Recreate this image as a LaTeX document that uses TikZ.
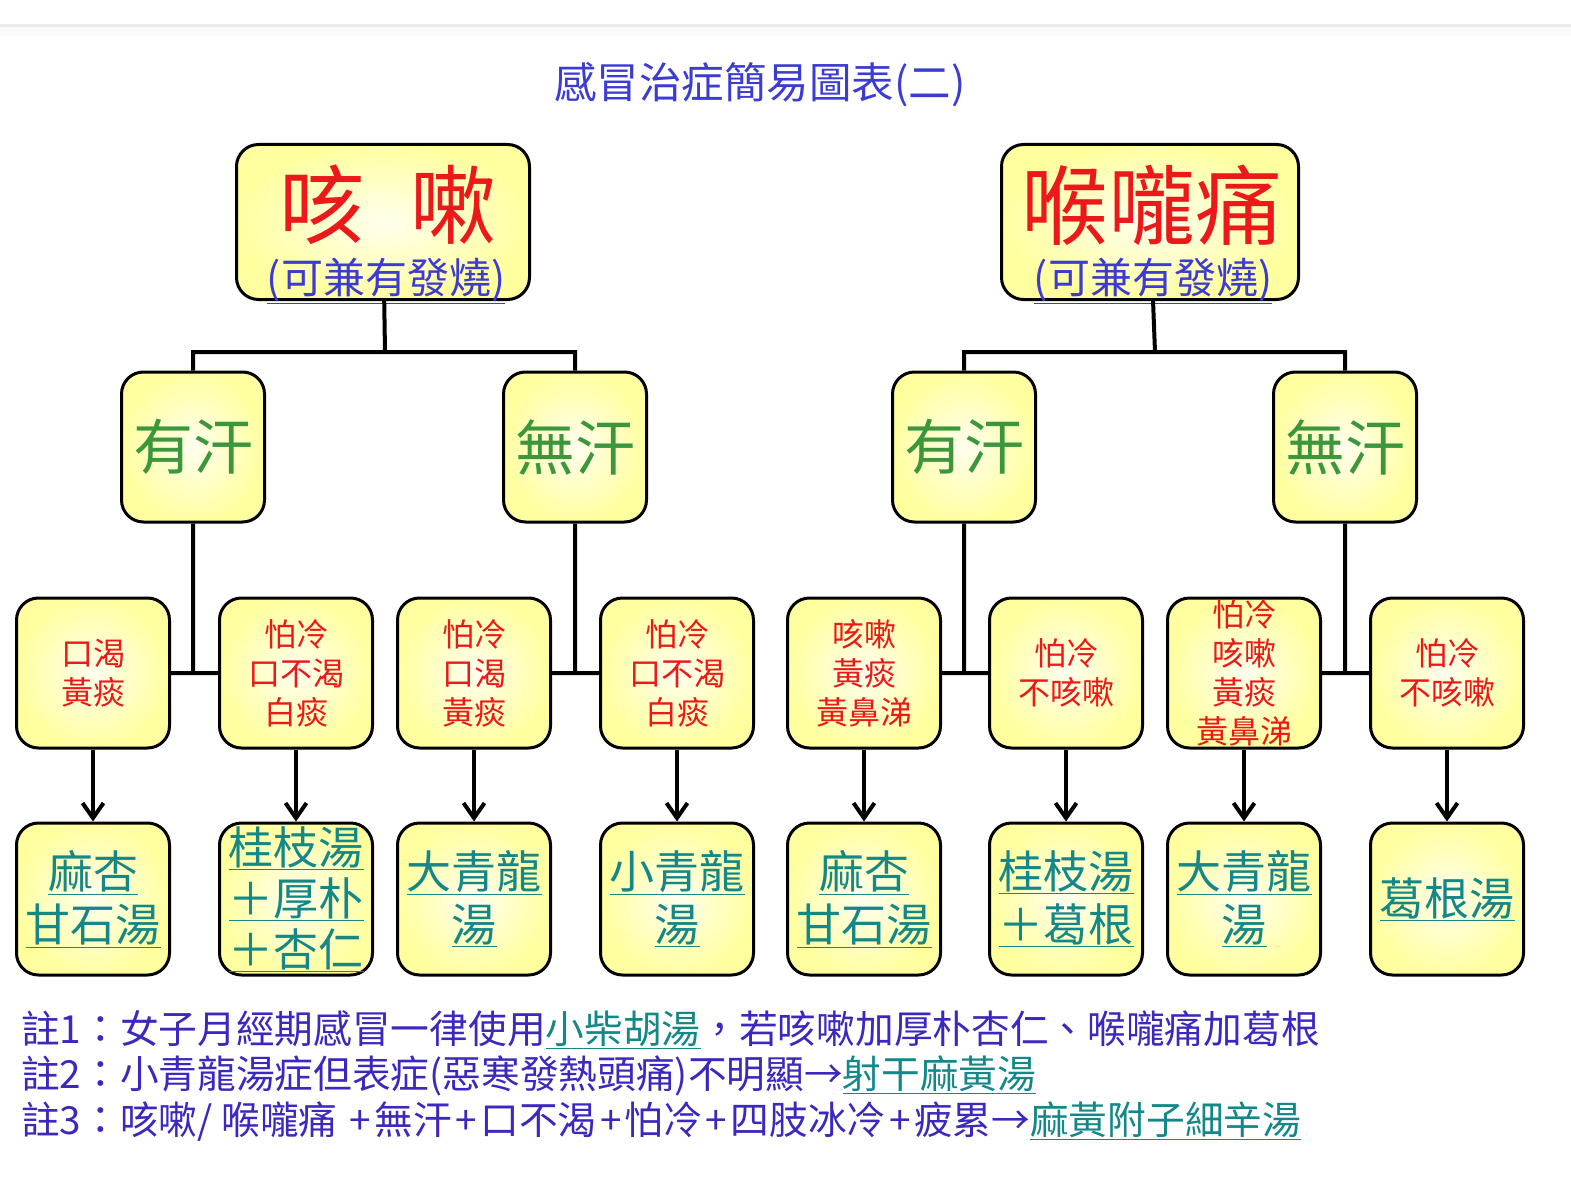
\documentclass[tikz,border=0pt]{standalone}
\usepackage{fontspec}
\setmainfont{Noto Sans CJK TC}
\usepackage{xcolor}
\usetikzlibrary{
    arrows.meta,
    positioning
}
\definecolor{ttlblue}{RGB}{60,60,210}
\definecolor{symred}{RGB}{235,25,25}
\definecolor{hangreen}{RGB}{60,150,60}
\definecolor{rxteal}{RGB}{20,135,135}
\definecolor{noteblue}{RGB}{60,40,190}
\definecolor{boxyel}{RGB}{255,255,160}
\definecolor{boxin}{RGB}{255,255,238}
\tikzset{ybox/.style={draw=black, line width=3pt, rounded corners=22pt, inner color=boxin, outer color=boxyel, inner sep=0pt, align=center}}
\tikzset{topbox/.style={ybox, minimum width=293pt, minimum height=155pt}}
\tikzset{hanbox/.style={ybox, minimum width=143pt, minimum height=150pt, text=hangreen, font=\fontsize{60}{60}\selectfont}}
\tikzset{symbox/.style={ybox, minimum width=153pt, minimum height=150pt, text=symred, font=\fontsize{32}{39}\selectfont}}
\tikzset{rxbox/.style={ybox, minimum width=153pt, minimum height=152pt, text=rxteal, font=\fontsize{45}{53}\selectfont}}
\tikzset{conn/.style={line width=4pt, draw=black}}
\tikzset{notel/.style={anchor=west, inner sep=0pt, text=noteblue, font=\fontsize{38.7}{38.7}\selectfont}}
\newcommand{\lnk}[1]{{\color{rxteal}\underline{#1}}}
\newcommand{\pls}{\hspace{3.5pt}+\hspace{3.5pt}}

\begin{document}
\begin{tikzpicture}[x=1pt, y=-1pt, >={Straight Barb[length=15pt, width=21pt, line width=4pt]}]
    \useasboundingbox (0, 0) rectangle (1571, 1185);
    \fill[black!8] (0, 24) rectangle (1571, 27);
    \fill[black!2] (0, 27) rectangle (1571, 36);

    \node[text=ttlblue, font=\fontsize{42.5}{42.5}\selectfont] (ttl) at (760, 85) {感冒治症簡易圖表(二)};

    % top boxes
    \node[topbox] (ks) at (383, 222) {};
    \node[text=symred, font=\fontsize{86}{86}\selectfont] (kst) at (388, 205) {咳\hspace{46pt}嗽};
    \node[text=ttlblue, font=\fontsize{42}{42}\selectfont, inner sep=0pt] (kss) at (386, 281) {\underline{(可兼有發燒)}};

    \node[topbox, minimum width=297pt] (hl) at (1150, 222) {};
    \node[text=symred, font=\fontsize{87}{87}\selectfont] (hlt) at (1152, 205) {喉嚨痛};
    \node[text=ttlblue, font=\fontsize{42}{42}\selectfont, inner sep=0pt] (hls) at (1153, 281) {\underline{(可兼有發燒)}};

    \coordinate (kj) at (385, 352);
    \coordinate (hj) at (1155, 352);

    % sweat / no sweat
    \node[hanbox] (ky) at (193, 447) {有汗};
    \node[hanbox] (kn) at (575, 447) {無汗};
    \node[hanbox] (hy) at (964, 447) {有汗};
    \node[hanbox] (hn) at (1345, 447) {無汗};

    % symptoms
    \node[symbox] (s1) at (93, 673) {口渴\\黃痰};
    \node[symbox] (s2) at (296, 673) {怕冷\\口不渴\\白痰};
    \node[symbox] (s3) at (474, 673) {怕冷\\口渴\\黃痰};
    \node[symbox] (s4) at (677, 673) {怕冷\\口不渴\\白痰};
    \node[symbox] (s5) at (864, 673) {咳嗽\\黃痰\\黃鼻涕};
    \node[symbox] (s6) at (1066, 673) {怕冷\\不咳嗽};
    \node[symbox] (s7) at (1244, 673) {怕冷\\咳嗽\\黃痰\\黃鼻涕};
    \node[symbox] (s8) at (1447, 673) {怕冷\\不咳嗽};

    % prescriptions
    \node[rxbox] (r1) at (93, 899) {\underline{麻杏}\\\underline{甘石湯}};
    \node[rxbox, font=\fontsize{45}{51}\selectfont] (r2) at (296, 899) {\underline{桂枝湯}\\\underline{＋厚朴}\\\underline{＋杏仁}};
    \node[rxbox] (r3) at (474, 899) {\underline{大青龍}\\\underline{湯}};
    \node[rxbox] (r4) at (677, 899) {\underline{小青龍}\\\underline{湯}};
    \node[rxbox] (r5) at (864, 899) {\underline{麻杏}\\\underline{甘石湯}};
    \node[rxbox] (r6) at (1066, 899) {\underline{桂枝湯}\\\underline{＋葛根}};
    \node[rxbox] (r7) at (1244, 899) {\underline{大青龍}\\\underline{湯}};
    \node[rxbox] (r8) at (1447, 899) {\underline{葛根湯}};

    \draw[conn]
    (ks) -- (kj)
    (hl) -- (hj)
    (ky.north) |- (kj) -| (kn.north)
    (hy.north) |- (hj) -| (hn.north)
    (s1) -- (s2)
    (s3) -- (s4)
    (s5) -- (s6)
    (s7) -- (s8)
    (ky) -- (ky |- s1)
    (kn) -- (kn |- s3)
    (hy) -- (hy |- s5)
    (hn) -- (hn |- s7);

    \draw[line width=4pt]
    (s1) edge[->] (r1)
    (s2) edge[->] (r2)
    (s3) edge[->] (r3)
    (s4) edge[->] (r4)
    (s5) edge[->] (r5)
    (s6) edge[->] (r6)
    (s7) edge[->] (r7)
    (s8) edge[->] (r8);

    % notes
    \node[notel] (n1) at (21, 1030) {註1：女子月經期感冒一律使用\lnk{小柴胡湯}，若咳嗽加厚朴杏仁、喉嚨痛加葛根};
    \node[notel] (n2) at (21, 1076) {註2：小青龍湯症但表症(惡寒發熱頭痛)不明顯→\lnk{射干麻黃湯}};
    \node[notel] (n3) at (21, 1122) {註3：咳嗽/ 喉嚨痛 \pls 無汗\pls 口不渴\pls 怕冷\pls 四肢冰冷\pls 疲累→\lnk{麻黃附子細辛湯}};
\end{tikzpicture}
\end{document}
